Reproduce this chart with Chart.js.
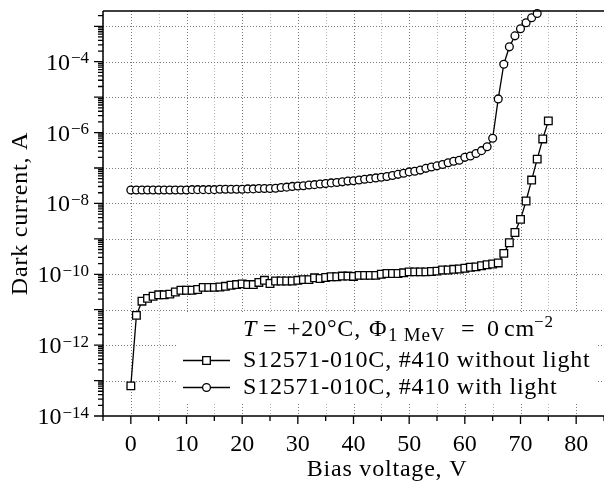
<!DOCTYPE html>
<html>
<head>
<meta charset="utf-8">
<script src="https://cdn.jsdelivr.net/npm/chart.js@4.4.1/dist/chart.umd.min.js"></script>
<style>
  html, body { margin: 0; padding: 0; background: #fff; }
</style>
</head>
<body>
<canvas id="ivChart" width="604" height="481"></canvas>
<script>
// Bias voltage steps, V
const biasDark = [
  0, 1, 2, 3, 4, 5, 6, 7, 8, 9, 10, 11, 12, 13, 14, 15, 16, 17, 18, 19,
  20, 21, 22, 23, 24, 25, 26, 27, 28, 29, 30, 31, 32, 33, 34, 35, 36, 37, 38, 39,
  40, 41, 42, 43, 44, 45, 46, 47, 48, 49, 50, 51, 52, 53, 54, 55, 56, 57, 58, 59,
  60, 61, 62, 63, 64, 65, 66, 67, 68, 69, 70, 71, 72, 73, 74, 75
];
const biasLight = [
  0, 1, 2, 3, 4, 5, 6, 7, 8, 9, 10, 11, 12, 13, 14, 15, 16, 17, 18, 19,
  20, 21, 22, 23, 24, 25, 26, 27, 28, 29, 30, 31, 32, 33, 34, 35, 36, 37, 38, 39,
  40, 41, 42, 43, 44, 45, 46, 47, 48, 49, 50, 51, 52, 53, 54, 55, 56, 57, 58, 59,
  60, 61, 62, 63, 64, 65, 66, 67, 68, 69, 70, 71, 72, 73
];

// Current without light, A
const currentDark = [
  7.08e-14, 6.92e-12, 1.74e-11, 2.09e-11, 2.40e-11, 2.63e-11, 2.63e-11, 2.75e-11, 3.16e-11, 3.55e-11,
  3.55e-11, 3.55e-11, 3.72e-11, 4.27e-11, 4.27e-11, 4.27e-11, 4.37e-11, 4.57e-11, 4.90e-11, 5.13e-11,
  5.37e-11, 5.13e-11, 5.13e-11, 5.89e-11, 6.76e-11, 5.50e-11, 6.46e-11, 6.46e-11, 6.46e-11, 6.46e-11,
  6.76e-11, 7.08e-11, 7.08e-11, 7.94e-11, 7.59e-11, 8.13e-11, 8.51e-11, 8.51e-11, 8.91e-11, 8.91e-11,
  8.71e-11, 9.33e-11, 9.33e-11, 9.33e-11, 9.33e-11, 1.00e-10, 1.05e-10, 1.05e-10, 1.05e-10, 1.10e-10,
  1.17e-10, 1.17e-10, 1.17e-10, 1.17e-10, 1.20e-10, 1.23e-10, 1.32e-10, 1.32e-10, 1.38e-10, 1.41e-10,
  1.48e-10, 1.58e-10, 1.62e-10, 1.74e-10, 1.86e-10, 1.95e-10, 2.09e-10, 3.89e-10, 7.76e-10, 1.51e-9,
  3.55e-9, 1.17e-8, 4.57e-8, 1.78e-7, 6.61e-7, 2.14e-6
];
// Current with light, A
const currentLight = [
  2.40e-8, 2.40e-8, 2.40e-8, 2.40e-8, 2.40e-8, 2.40e-8, 2.40e-8, 2.40e-8, 2.40e-8, 2.40e-8,
  2.40e-8, 2.45e-8, 2.45e-8, 2.45e-8, 2.45e-8, 2.45e-8, 2.51e-8, 2.51e-8, 2.51e-8, 2.51e-8,
  2.51e-8, 2.57e-8, 2.57e-8, 2.63e-8, 2.63e-8, 2.63e-8, 2.69e-8, 2.82e-8, 2.88e-8, 3.02e-8,
  3.09e-8, 3.16e-8, 3.31e-8, 3.39e-8, 3.55e-8, 3.63e-8, 3.80e-8, 3.89e-8, 4.07e-8, 4.27e-8,
  4.37e-8, 4.57e-8, 4.79e-8, 5.01e-8, 5.25e-8, 5.50e-8, 5.75e-8, 6.17e-8, 6.61e-8, 7.08e-8,
  7.76e-8, 8.13e-8, 8.71e-8, 9.77e-8, 1.07e-7, 1.15e-7, 1.26e-7, 1.41e-7, 1.55e-7, 1.66e-7,
  2.00e-7, 2.19e-7, 2.57e-7, 3.09e-7, 3.98e-7, 6.92e-7, 8.91e-6, 8.51e-5, 2.63e-4, 5.37e-4,
  8.51e-4, 1.26e-3, 1.74e-3, 2.29e-3
];

const seriesLabels = ['S12571-010C, #410 without light', 'S12571-010C, #410 with light'];
const xTickValues = [0, 10, 20, 30, 40, 50, 60, 70, 80];
const yLabelExponents = [-14, -12, -10, -8, -6, -4];

const SERIF = '"Liberation Serif", "DejaVu Serif", serif';
const FONT = '24px ' + SERIF;
const SMALL = '17px ' + SERIF;
const SUB = '19px ' + SERIF;

function drawMarker(ctx, style, x, y) {
  ctx.save();
  ctx.fillStyle = '#fff';
  ctx.strokeStyle = '#000';
  ctx.lineWidth = 1.3;
  ctx.beginPath();
  if (style === 'rect') {
    ctx.rect(x - 3.8, y - 3.8, 7.6, 7.6);
  } else {
    ctx.arc(x, y, 3.9, 0, Math.PI * 2);
  }
  ctx.fill();
  ctx.stroke();
  ctx.restore();
}

// grid, spines, ticks, labels and legend drawn by hand
const axesDecor = {
  id: 'axesDecor',
  beforeDatasetsDraw(chart) {
    const { ctx, chartArea: a, scales: { x, y } } = chart;
    ctx.save();
    ctx.lineWidth = 1;
    ctx.setLineDash([1, 2]);
    for (let v = -5; v <= 85; v += 5) {
      const px = Math.round(x.getPixelForValue(v)) + 0.5;
      ctx.strokeStyle = v % 10 === 0 ? '#7a7a7a' : '#b8b8b8';
      ctx.beginPath();
      ctx.moveTo(px, a.top);
      ctx.lineTo(px, a.bottom);
      ctx.stroke();
    }
    ctx.strokeStyle = '#7a7a7a';
    for (let e = -13; e <= -3; e++) {
      const py = Math.round(y.getPixelForValue(Math.pow(10, e))) + 0.5;
      ctx.beginPath();
      ctx.moveTo(a.left, py);
      ctx.lineTo(a.right, py);
      ctx.stroke();
    }
    ctx.restore();
  },
  afterDatasetsDraw(chart) {
    const { ctx, chartArea: a, scales: { x, y } } = chart;
    ctx.save();

    // legend box
    ctx.fillStyle = '#fff';
    ctx.fillRect(178, 314, 418, 88);

    // spines
    ctx.strokeStyle = '#000';
    ctx.lineWidth = 1.5;
    ctx.beginPath();
    ctx.moveTo(a.left, a.top);
    ctx.lineTo(a.left, a.bottom);
    ctx.lineTo(a.right, a.bottom);
    ctx.moveTo(a.left, a.top);
    ctx.lineTo(a.right, a.top);
    ctx.stroke();

    // x ticks
    ctx.lineWidth = 1.3;
    ctx.beginPath();
    for (let v = -5; v <= 85; v += 5) {
      const px = x.getPixelForValue(v);
      ctx.moveTo(px, a.bottom);
      ctx.lineTo(px, a.bottom + (v % 10 === 0 ? 8 : 5));
    }
    // y ticks, decades and 2..9 subdivisions
    for (let e = -14; e <= -3; e++) {
      for (let k = 1; k <= 9; k++) {
        const val = k * Math.pow(10, e);
        if (val > y.max * 1.0001) continue;
        const py = y.getPixelForValue(val);
        ctx.moveTo(a.left, py);
        ctx.lineTo(a.left - (k === 1 ? 9 : 5), py);
      }
    }
    ctx.stroke();

    // tick labels
    ctx.fillStyle = '#000';
    ctx.textBaseline = 'alphabetic';
    ctx.font = FONT;
    ctx.textAlign = 'center';
    xTickValues.forEach(v => ctx.fillText(String(v), x.getPixelForValue(v), 451));
    ctx.textAlign = 'left';
    yLabelExponents.forEach(e => {
      const py = y.getPixelForValue(Math.pow(10, e));
      const sup = '\u2212' + Math.abs(e);
      ctx.font = FONT;
      const wb = ctx.measureText('10').width;
      ctx.font = SMALL;
      const ws = ctx.measureText(sup).width;
      const x0 = 89 - ws - wb - 1;
      ctx.font = FONT;
      ctx.fillText('10', x0, py + 8);
      ctx.font = SMALL;
      ctx.fillText(sup, x0 + wb + 1, py + 1.5);
    });

    // axis titles
    ctx.letterSpacing = '0.8px';
    ctx.font = FONT;
    ctx.textAlign = 'center';
    ctx.fillText('Bias voltage, V', 387, 476);
    ctx.save();
    ctx.translate(27, (a.top + a.bottom) / 2);
    ctx.rotate(-Math.PI / 2);
    ctx.fillText('Dark current, A', 0, 0);
    ctx.restore();

    // legend title: T = +20°C, Φ_{1 MeV} = 0 cm^-2, pieces placed like math spacing
    ctx.textAlign = 'left';
    const tb = 336;
    const parts = [
      ['italic 24px ' + SERIF, 'T', 243, 0],
      [FONT, '=', 263, 0],
      [FONT, '+20°C,', 287, 0],
      [FONT, 'Φ', 369, 0],
      [SUB, '1 MeV', 388, 5],
      [FONT, '=', 461, 0],
      [FONT, '0', 487, 0],
      [FONT, 'cm', 504, 0],
      [SMALL, '\u22122', 534, -9]
    ];
    parts.forEach(([f, t, px, dy]) => {
      ctx.font = f;
      ctx.fillText(t, px, tb + dy);
    });

    // legend entries
    const rows = [[367, 'rect'], [394, 'circle']];
    rows.forEach(([base, style], i) => {
      const my = base - 6.5;
      ctx.strokeStyle = '#000';
      ctx.lineWidth = 1.3;
      ctx.beginPath();
      ctx.moveTo(183, my);
      ctx.lineTo(230, my);
      ctx.stroke();
      drawMarker(ctx, style, 206.5, my);
      ctx.font = FONT;
      ctx.fillStyle = '#000';
      ctx.fillText(seriesLabels[i], 243, base);
    });

    ctx.restore();
  }
};

const ctx = document.getElementById('ivChart').getContext('2d');
new Chart(ctx, {
  type: 'line',
  data: {
    datasets: [{
      label: seriesLabels[0],
      data: biasDark.map((v, i) => ({ x: v, y: currentDark[i] })),
      borderColor: '#000',
      borderWidth: 1.3,
      pointStyle: 'rect',
      pointRadius: 5.4,
      pointBorderWidth: 1.3,
      pointBackgroundColor: '#fff',
      pointBorderColor: '#000',
      clip: false
    }, {
      label: seriesLabels[1],
      data: biasLight.map((v, i) => ({ x: v, y: currentLight[i] })),
      borderColor: '#000',
      borderWidth: 1.3,
      pointStyle: 'circle',
      pointRadius: 3.9,
      pointBorderWidth: 1.3,
      pointBackgroundColor: '#fff',
      pointBorderColor: '#000',
      clip: false
    }]
  },
  options: {
    responsive: false,
    animation: false,
    layout: { autoPadding: false, padding: { top: 11, right: -1, left: 0, bottom: 0 } },
    plugins: { legend: { display: false }, tooltip: { enabled: false } },
    elements: { line: { tension: 0 } },
    scales: {
      x: {
        type: 'linear', min: -5, max: 85,
        ticks: { display: false },
        grid: { display: false },
        border: { display: false },
        afterFit: s => { s.height = 65; }
      },
      y: {
        type: 'logarithmic', min: 1e-14, max: 2.7e-3,
        ticks: { display: false },
        grid: { display: false },
        border: { display: false },
        afterFit: s => { s.width = 103; }
      }
    }
  },
  plugins: [axesDecor]
});
</script>
</body>
</html>
